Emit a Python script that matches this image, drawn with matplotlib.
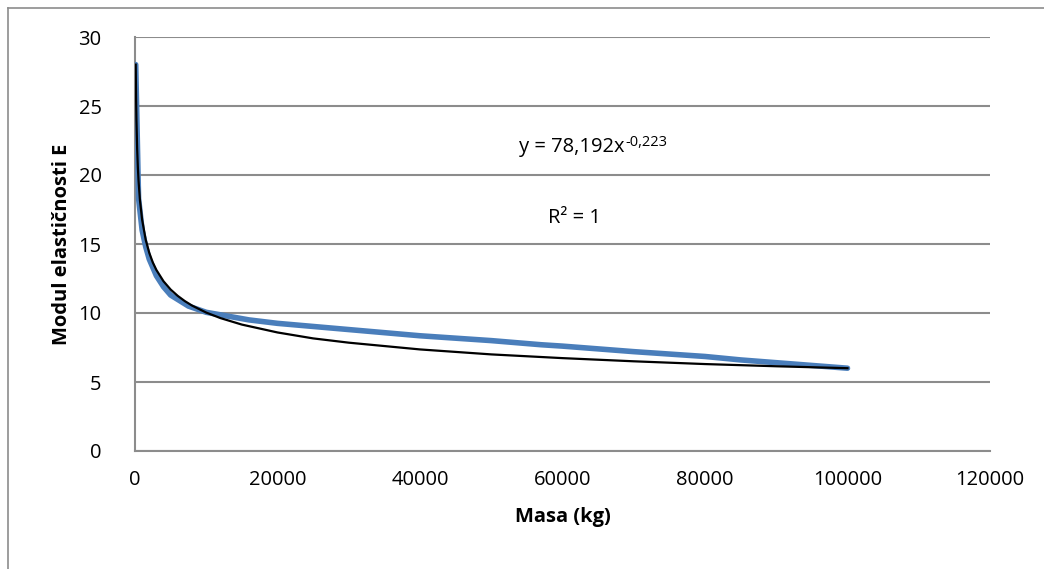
import matplotlib
matplotlib.use("Agg")
from matplotlib import pyplot as plt
from matplotlib.lines import Line2D

plt.rcParams['font.family'] = ['Open Sans', 'DejaVu Sans']

# measured series (blue)
masa = [100, 500, 1000, 1500, 2000, 3000, 4000, 5000, 7500, 10000, 16000, 20000,
        30000, 40000, 50000, 57000, 60000, 70000, 80000, 85000, 90000, 100000]
modul = [28.0, 18.3, 16.0, 14.8, 13.9, 12.7, 11.9, 11.3, 10.5, 10.05, 9.5, 9.25,
         8.8, 8.35, 8.0, 7.7, 7.6, 7.2, 6.85, 6.6, 6.4, 6.0]

# power trendline (black)
trend_x = [100, 150, 200, 300, 400, 500, 700, 1000, 1500, 2000, 2500, 3000,
           4000, 5000, 6000, 7000, 8000, 10000, 12000, 15000, 20000, 25000, 30000,
           40000, 50000, 60000, 70000, 80000, 90000, 100000]
trend_y = [28.0, 25.58, 23.99, 21.92, 20.56, 19.56, 18.14, 16.76, 15.31, 14.36,
           13.66, 13.12, 12.30, 11.70, 11.24, 10.86, 10.54, 10.03, 9.63, 9.16,
           8.59, 8.16, 7.85, 7.36, 7.00, 6.73, 6.50, 6.30, 6.14, 6.00]

x_ticks = [0, 20000, 40000, 60000, 80000, 100000, 120000]
y_ticks = [0, 5, 10, 15, 20, 25, 30]

fig = plt.figure(figsize=(10.44, 5.69), dpi=100)
ax = fig.add_axes([135/1044, 1-451/569, (990-135)/1044, (451-37)/569])

grid_c = "#8c8c8c"
ax.plot(masa, modul, color="#4a7ebb", linewidth=4.0, solid_capstyle='round',
        solid_joinstyle='round', zorder=3)
ax.plot(trend_x, trend_y, color="black", linewidth=1.6, zorder=4)

ax.set_xlim(0, 120000)
ax.set_ylim(0, 30)
ax.set_xticks(x_ticks)
ax.set_yticks(y_ticks)
ax.set_xticklabels([str(v) for v in x_ticks])
ax.set_yticklabels([str(v) for v in y_ticks])
ax.tick_params(length=0, labelsize=14.5, colors="black")
ax.tick_params(axis='x', pad=14)
ax.tick_params(axis='y', pad=24)
ax.yaxis.grid(True, color=grid_c, linewidth=1.5)
ax.set_axisbelow(True)
for s in ['top', 'right']:
    ax.spines[s].set_visible(False)
for s in ['left', 'bottom']:
    ax.spines[s].set_color(grid_c)
    ax.spines[s].set_linewidth(1.5)

ax.set_xlabel("Masa (kg)", fontsize=14.5, fontweight='bold', labelpad=12)
ax.set_ylabel("Modul elastičnosti E", fontsize=14.5, fontweight='bold', labelpad=5)

# trendline equation with superscript exponent
eq = ax.text(53900, 22.0, "y = 78,192x", fontsize=14.5, ha='left', va='center')
fig.canvas.draw()
bb = eq.get_window_extent()
ax.annotate("-0,223", xy=(bb.x1, bb.y1), xycoords='figure pixels',
            xytext=(0.5, 1.5), textcoords='offset points', fontsize=10.5,
            ha='left', va='top')
ax.text(61750, 16.9, "R² = 1", fontsize=14.5, ha='center', va='center')

# outer chart border
fig.add_artist(Line2D([8/1044, 8/1044], [0, 1-8/569], color=grid_c, linewidth=1.2))
fig.add_artist(Line2D([8/1044, 1], [1-8/569, 1-8/569], color=grid_c, linewidth=1.2))

fig.savefig("out.png", dpi=100)
